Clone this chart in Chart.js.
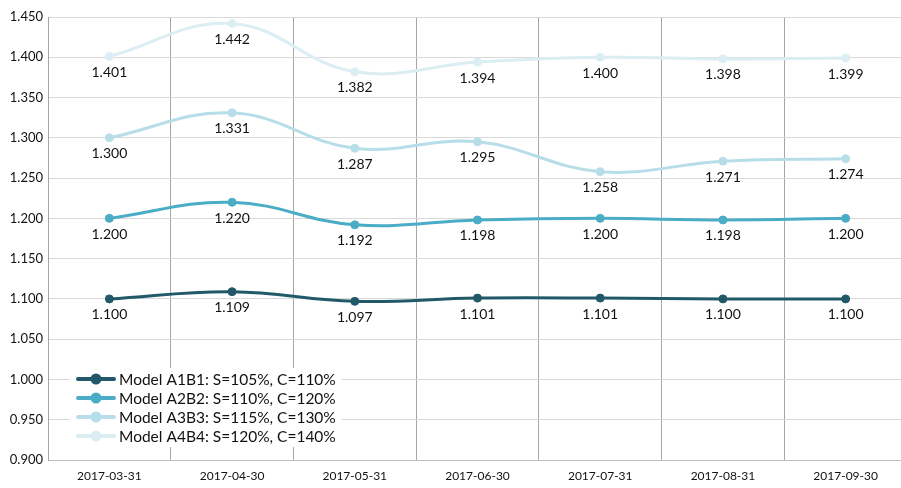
<!DOCTYPE html>
<html>
<head>
<meta charset="utf-8">
<script src="https://cdn.jsdelivr.net/npm/chart.js@4/dist/chart.umd.min.js"></script>
<style>
  html, body { margin: 0; padding: 0; background: #fff; overflow: hidden; }
  #wrap { position: relative; width: 912px; height: 488px; }
</style>
</head>
<body>
<div id="wrap"><canvas id="c"></canvas></div>
<script>
// Month-end reporting dates
const dates = ['2017-03-31', '2017-04-30', '2017-05-31', '2017-06-30', '2017-07-31', '2017-08-31', '2017-09-30'];

// Series names
const seriesNames = [
  'Model A1B1: S=105%, C=110%',
  'Model A2B2: S=110%, C=120%',
  'Model A3B3: S=115%, C=130%',
  'Model A4B4: S=120%, C=140%'
];

// Series values
const modelA1B1 = [1.100, 1.109, 1.097, 1.101, 1.101, 1.100, 1.100];
const modelA2B2 = [1.200, 1.220, 1.192, 1.198, 1.200, 1.198, 1.200];
const modelA3B3 = [1.300, 1.331, 1.287, 1.295, 1.258, 1.271, 1.274];
const modelA4B4 = [1.401, 1.442, 1.382, 1.394, 1.400, 1.398, 1.399];

// Value axis range
const yMin = 0.900;
const yMax = 1.450;
const yStep = 0.050;

const seriesColors = ['#215968', '#4bacc6', '#b7dee8', '#daeef3'];
const seriesValues = [modelA1B1, modelA2B2, modelA3B3, modelA4B4];

const FONT = 'Lato, "Open Sans", sans-serif';

// Value labels under each point
const pointLabels = {
  id: 'pointLabels',
  afterDatasetsDraw(chart) {
    const ctx = chart.ctx;
    ctx.save();
    ctx.font = '14px ' + FONT;
    ctx.fillStyle = '#111';
    ctx.textAlign = 'center';
    ctx.textBaseline = 'middle';
    chart.data.datasets.forEach((ds, i) => {
      const meta = chart.getDatasetMeta(i);
      meta.data.forEach((pt, j) => {
        ctx.fillText(ds.data[j].toFixed(3), pt.x, pt.y + 16);
      });
    });
    ctx.restore();
  }
};

// Legend box in the lower-left corner of the plot
const cornerLegend = {
  id: 'cornerLegend',
  afterDraw(chart) {
    const ctx = chart.ctx;
    const area = chart.chartArea;
    const x0 = area.left + 22, y0 = area.bottom - 92, w = 272, h = 79;
    ctx.save();
    ctx.fillStyle = '#ffffff';
    ctx.fillRect(x0, y0, w, h);
    ctx.font = '15.5px ' + FONT;
    ctx.textBaseline = 'middle';
    ctx.textAlign = 'left';
    chart.data.datasets.forEach((ds, i) => {
      const cy = y0 + 11 + i * 19;
      ctx.strokeStyle = ds.borderColor;
      ctx.lineWidth = 4;
      ctx.lineCap = 'round';
      ctx.beginPath();
      ctx.moveTo(x0 + 8, cy);
      ctx.lineTo(x0 + 44, cy);
      ctx.stroke();
      ctx.fillStyle = ds.borderColor;
      ctx.beginPath();
      ctx.arc(x0 + 26, cy, 5.5, 0, Math.PI * 2);
      ctx.fill();
      ctx.fillStyle = '#111';
      ctx.fillText(ds.label, x0 + 49, cy + 1);
    });
    ctx.restore();
  }
};

new Chart(document.getElementById('c'), {
  type: 'line',
  data: {
    labels: dates,
    datasets: seriesValues.map((vals, i) => ({
      label: seriesNames[i],
      data: vals,
      borderColor: seriesColors[i],
      backgroundColor: seriesColors[i],
      pointBackgroundColor: seriesColors[i],
      pointBorderColor: seriesColors[i],
      borderWidth: 3,
      pointRadius: 4,
      pointBorderWidth: 1,
      tension: 0.4,
      fill: false
    }))
  },
  options: {
    responsive: true,
    maintainAspectRatio: false,
    animation: false,
    devicePixelRatio: 1,
    layout: { padding: { top: 17, right: 1, bottom: 0, left: 0 } },
    plugins: {
      legend: { display: false },
      tooltip: { enabled: false }
    },
    scales: {
      x: {
        offset: true,
        grid: { offset: true, color: '#a6a6a6', lineWidth: 1, drawTicks: false },
        border: { color: '#bfbfbf' },
        ticks: { color: '#111', font: { family: FONT, size: 12 }, padding: 9, maxRotation: 0, autoSkip: false },
        afterFit(scale) { scale.height = 28; }
      },
      y: {
        min: yMin,
        max: yMax,
        grid: { color: '#d9d9d9', lineWidth: 1, drawTicks: false },
        border: { color: '#a6a6a6' },
        ticks: {
          stepSize: yStep,
          color: '#111',
          font: { family: FONT, size: 13 },
          padding: 5,
          callback: v => Number(v).toFixed(3)
        },
        afterFit(scale) { scale.width = 48; }
      }
    }
  },
  plugins: [pointLabels, cornerLegend]
});
</script>
</body>
</html>
